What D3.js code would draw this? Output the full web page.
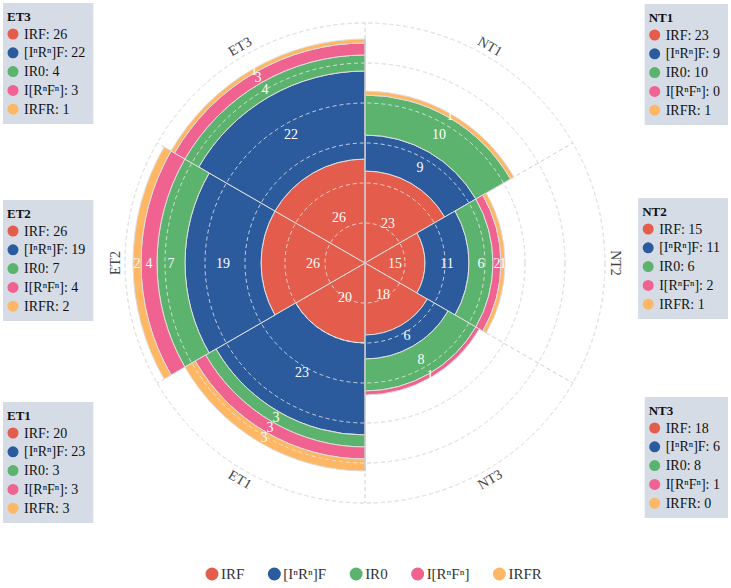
<!DOCTYPE html>
<html>
<head>
<meta charset="utf-8">
<script src="https://cdn.jsdelivr.net/npm/d3@7"></script>
<style>
  body { margin: 0; background: #fff; }
  svg { display: block; font-family: "Liberation Serif", "DejaVu Serif", serif; }
</style>
</head>
<body>
<svg id="chart" width="731" height="588"></svg>
<script>
// groups, clockwise from the top
const categories = ["NT1", "NT2", "NT3", "ET1", "ET2", "ET3"];
const seriesNames = ["IRF", "[I\u207FR\u207F]F", "IR0", "I[R\u207FF\u207F]", "IRFR"];
const seriesColors = ["#e45c4b", "#2b5b9c", "#5bb36d", "#f0628f", "#fdb765"];

const irf    = [23, 15, 18, 20, 26, 26];
const inrnf  = [9, 11, 6, 23, 19, 22];
const ir0    = [10, 6, 8, 3, 7, 4];
const irnfn  = [0, 2, 1, 3, 4, 3];
const irfr   = [1, 1, 0, 3, 2, 1];
const radialTicks = [10, 20, 30, 40, 50, 60];

const seriesValues = [irf, inrnf, ir0, irnfn, irfr];

const svg = d3.select("#chart");
const cx = 365, cy = 263;

const rows = categories.map(function(c, i) {
    const row = { cat: c };
    seriesNames.forEach(function(s, k) { row[s] = seriesValues[k][i]; });
    return row;
});

const stacked = d3.stack().keys(seriesNames)(rows);

const r = d3.scaleLinear().domain([0, 60]).range([0, 240]);
const ang = d3.scaleBand().domain(categories).range([0, 2 * Math.PI]);

const g = svg.append("g").attr("transform", `translate(${cx},${cy})`);

// grid under bars
const gridUnder = g.append("g");
gridUnder.selectAll("circle")
    .data(radialTicks)
    .enter()
    .append("circle")
    .attr("r", r)
    .attr("fill", "none")
    .attr("stroke", "#cfcfcf")
    .attr("stroke-dasharray", "4,3");
gridUnder.selectAll("line")
    .data(categories)
    .enter()
    .append("line")
    .attr("x1", 0).attr("y1", 0)
    .attr("x2", function(d) { return r(60) * Math.sin(ang(d)); })
    .attr("y2", function(d) { return -r(60) * Math.cos(ang(d)); })
    .attr("stroke", "#cfcfcf")
    .attr("stroke-dasharray", "4,3");

// bars
const arc = d3.arc();
const layers = g.append("g").selectAll("g")
    .data(stacked)
    .enter()
    .append("g")
    .attr("fill", function(d, i) { return seriesColors[i]; });

layers.selectAll("path")
    .data(function(d) { return d.filter(function(p) { return p[1] > p[0]; }); })
    .enter()
    .append("path")
    .attr("d", function(p) {
        return arc({
            innerRadius: r(p[0]),
            outerRadius: r(p[1]),
            startAngle: ang(p.data.cat),
            endAngle: ang(p.data.cat) + ang.bandwidth()
        });
    })
    .attr("stroke", "#dedede")
    .attr("stroke-width", 1);

// grid over bars
const gridOver = g.append("g");
gridOver.selectAll("circle")
    .data(radialTicks)
    .enter()
    .append("circle")
    .attr("r", r)
    .attr("fill", "none")
    .attr("stroke", "rgba(235,235,235,0.8)")
    .attr("stroke-dasharray", "4,3");

// vertical axis line through the bars
const topTotal = d3.max(stacked, function(s) { return Math.max(s[0][1], s[5][1]); });
const botTotal = d3.max(stacked, function(s) { return Math.max(s[2][1], s[3][1]); });
g.append("line")
    .attr("x1", 0).attr("x2", 0)
    .attr("y1", -r(topTotal)).attr("y2", r(botTotal))
    .attr("stroke", "#c4c4c4")
    .attr("stroke-width", 1.2);

// value labels
layers.selectAll("text")
    .data(function(d) { return d.filter(function(p) { return p[1] > p[0]; }); })
    .enter()
    .append("text")
    .attr("x", function(p) {
        const a = ang(p.data.cat) + ang.bandwidth() / 2;
        return r((p[0] + p[1]) / 2) * Math.sin(a);
    })
    .attr("y", function(p) {
        const a = ang(p.data.cat) + ang.bandwidth() / 2;
        return -r((p[0] + p[1]) / 2) * Math.cos(a);
    })
    .attr("text-anchor", "middle")
    .attr("dominant-baseline", "central")
    .attr("fill", "#fff")
    .attr("font-size", 14)
    .text(function(p) { return p[1] - p[0]; });

// angular labels
g.append("g").selectAll("text")
    .data(categories)
    .enter()
    .append("text")
    .attr("transform", function(d) {
        const a = ang(d) + ang.bandwidth() / 2;
        const deg = a * 180 / Math.PI;
        const rot = (deg > 90 && deg < 270) ? deg - 180 : (deg >= 270 ? deg - 360 : deg);
        const x = 250 * Math.sin(a), y = -250 * Math.cos(a);
        return `translate(${x},${y}) rotate(${rot})`;
    })
    .attr("text-anchor", "middle")
    .attr("dominant-baseline", "central")
    .attr("fill", "#444")
    .attr("font-size", 14)
    .text(function(d) { return d; });

// info boxes
const boxPos = {
    ET3: { x: 3, y: 3, side: "left" },
    ET2: { x: 3, y: 200, side: "left" },
    ET1: { x: 3, y: 402, side: "left" },
    NT1: { x: 728, y: 4, side: "right" },
    NT2: { x: 728, y: 198, side: "right" },
    NT3: { x: 728, y: 397, side: "right" }
};

categories.forEach(function(c, i) {
    const pos = boxPos[c];
    const box = svg.append("g");
    const bg = box.append("rect").attr("fill", "#d5dce6");
    const content = box.append("g");
    content.append("text")
        .attr("x", 4).attr("y", 13)
        .attr("dominant-baseline", "central")
        .attr("font-size", 13)
        .attr("font-weight", "bold")
        .attr("fill", "#111")
        .text(c);
    seriesNames.forEach(function(s, k) {
        const yy = 31 + k * 18.8;
        content.append("circle")
            .attr("cx", 10).attr("cy", yy).attr("r", 5.5)
            .attr("fill", seriesColors[k]);
        content.append("text")
            .attr("x", 21).attr("y", yy)
            .attr("dominant-baseline", "central")
            .attr("font-size", 14)
            .attr("fill", "#111")
            .text(s + ": " + seriesValues[k][i]);
    });
    const bb = content.node().getBBox();
    const w = bb.x + bb.width + 8;
    const h = 121;
    const x0 = pos.side === "left" ? pos.x : pos.x - w;
    bg.attr("width", w).attr("height", h);
    box.attr("transform", `translate(${x0},${pos.y})`);
});

// bottom legend, items laid out one after another
const legend = svg.append("g").attr("transform", "translate(212,574)");
let lx = 0;
seriesNames.forEach(function(s, k) {
    const item = legend.append("g").attr("transform", `translate(${lx},0)`);
    item.append("circle")
        .attr("r", 6.5)
        .attr("fill", seriesColors[k]);
    const t = item.append("text")
        .attr("x", 9)
        .attr("dominant-baseline", "central")
        .attr("font-size", 15)
        .attr("fill", "#333")
        .text(s);
    lx += 9 + t.node().getComputedTextLength() + 30;
});
</script>
</body>
</html>
